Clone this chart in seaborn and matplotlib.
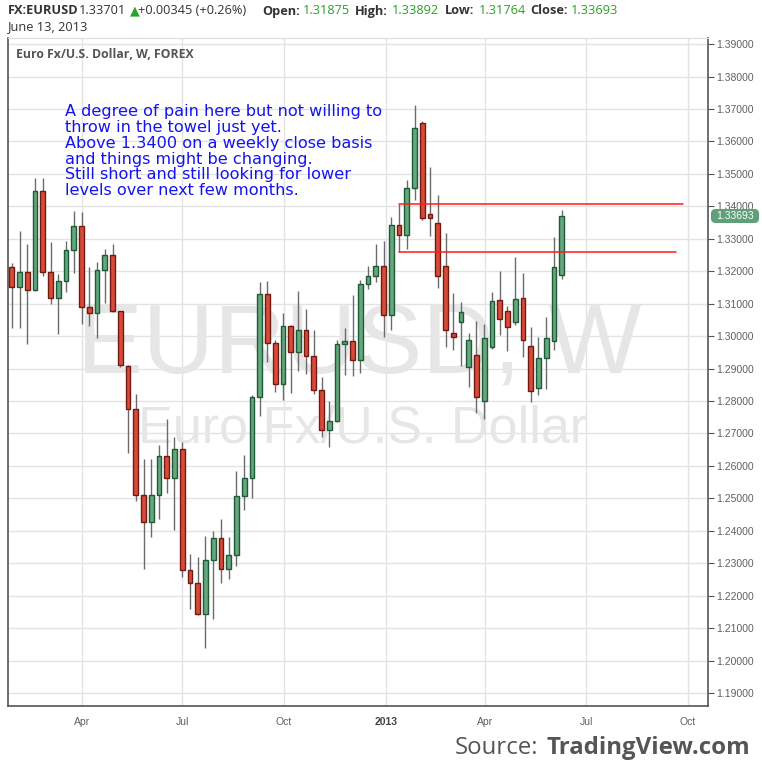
import numpy as np
import pandas as pd
import matplotlib
matplotlib.use("Agg")
import matplotlib.pyplot as plt
import matplotlib.dates as mdates
from matplotlib.patches import FancyBboxPatch
import seaborn as sns

# ---------------- data (weekly EUR/USD candles) ----------------
week_start = "2012-01-29"
opens = [1.3212, 1.3152, 1.3197, 1.3141, 1.3446, 1.3197, 1.3117, 1.3169, 1.3265, 1.3339,
         1.3089, 1.3070, 1.3203, 1.3249, 1.3077, 1.2907, 1.2775, 1.2510, 1.2426, 1.2510,
         1.2630, 1.2562, 1.2651, 1.2278, 1.2238, 1.2143, 1.2309, 1.2377, 1.2282, 1.2325,
         1.2506, 1.2562, 1.2812, 1.3129, 1.2978, 1.2852, 1.3030, 1.2950, 1.3018, 1.2938,
         1.2833, 1.2710, 1.2738, 1.2975, 1.2984, 1.2926, 1.3160, 1.3184, 1.3215, 1.3064,
         1.3342, 1.3311, 1.3456, 1.3656, 1.3376, 1.3348, 1.3215, 1.3009, 1.3043, 1.2904,
         1.2941, 1.2799, 1.2966, 1.3110, 1.3077, 1.3043, 1.3117, 1.2969, 1.2839, 1.2932,
         1.2984, 1.31875]
highs = [1.3225, 1.3324, 1.3283, 1.3486, 1.3486, 1.3290, 1.3191, 1.3293, 1.3386, 1.3384,
         1.3212, 1.3228, 1.3269, 1.3283, 1.3078, 1.2910, 1.2822, 1.2621, 1.2621, 1.2665,
         1.2744, 1.2688, 1.2673, 1.2329, 1.2319, 1.2383, 1.2399, 1.2436, 1.2380, 1.2584,
         1.2633, 1.2818, 1.3166, 1.3169, 1.2987, 1.3070, 1.3034, 1.3138, 1.3083, 1.3018,
         1.2873, 1.2799, 1.2987, 1.3024, 1.3126, 1.3172, 1.3216, 1.3283, 1.3292, 1.3366,
         1.3406, 1.3480, 1.3711, 1.3662, 1.3520, 1.3434, 1.3317, 1.3132, 1.3104, 1.3009,
         1.3046, 1.3037, 1.3135, 1.3200, 1.3092, 1.3243, 1.3194, 1.3027, 1.2996, 1.3058,
         1.3305, 1.33892]
lows = [1.3026, 1.3026, 1.2975, 1.3138, 1.3186, 1.3098, 1.3006, 1.3135, 1.3194, 1.3037,
        1.3032, 1.2995, 1.3103, 1.3075, 1.2904, 1.2641, 1.2493, 1.2283, 1.2382, 1.2437,
        1.2516, 1.2404, 1.2257, 1.2158, 1.2140, 1.2038, 1.2127, 1.2238, 1.2251, 1.2291,
        1.2463, 1.2500, 1.2753, 1.2919, 1.2827, 1.2802, 1.2824, 1.2892, 1.2882, 1.2821,
        1.2688, 1.2658, 1.2735, 1.2879, 1.2876, 1.2886, 1.3144, 1.3166, 1.2996, 1.3018,
        1.3258, 1.3268, 1.3419, 1.3357, 1.3308, 1.3147, 1.2966, 1.2956, 1.2909, 1.2842,
        1.2762, 1.2745, 1.2960, 1.3003, 1.2953, 1.3033, 1.2935, 1.2796, 1.2818, 1.2836,
        1.2956, 1.31764]
closes = [1.3152, 1.3197, 1.3141, 1.3446, 1.3197, 1.3117, 1.3169, 1.3265, 1.3339, 1.3089,
          1.3070, 1.3203, 1.3249, 1.3077, 1.2910, 1.2775, 1.2510, 1.2426, 1.2510, 1.2630,
          1.2562, 1.2651, 1.2278, 1.2238, 1.2143, 1.2309, 1.2377, 1.2282, 1.2325, 1.2506,
          1.2562, 1.2812, 1.3129, 1.2978, 1.2852, 1.3030, 1.2950, 1.3018, 1.2938, 1.2833,
          1.2710, 1.2738, 1.2975, 1.2984, 1.2926, 1.3160, 1.3184, 1.3215, 1.3064, 1.3342,
          1.3311, 1.3456, 1.3641, 1.3363, 1.3363, 1.3184, 1.3018, 1.2996, 1.3074, 1.2987,
          1.2812, 1.2993, 1.3107, 1.3052, 1.3027, 1.3114, 1.2987, 1.2830, 1.2932, 1.2993,
          1.3212, 1.33693]

resistance_levels = [1.3406, 1.3258]
y_ticks = [1.19, 1.20, 1.21, 1.22, 1.23, 1.24, 1.25, 1.26, 1.27, 1.28, 1.29, 1.30,
           1.31, 1.32, 1.33, 1.34, 1.35, 1.36, 1.37, 1.38, 1.39]
x_tick_dates = ["2012-04-01", "2012-07-01", "2012-10-01", "2013-01-01",
                "2013-04-01", "2013-07-01", "2013-10-01"]
x_tick_labels = ["Apr", "Jul", "Oct", "2013", "Apr", "Jul", "Oct"]
last_price = 1.33693
note_lines = ["A degree of pain here but not willing to",
              "throw in the towel just yet.",
              "Above 1.3400 on a weekly close basis",
              "and things might be changing.",
              "Still short and still looking for lower",
              "levels over next few months."]

# ---------------- style ----------------
sns.set_style("white")
plt.rcParams["font.family"] = ["DejaVu Sans"]

UP_FILL, UP_EDGE = "#65a77f", "#1f5a37"
DN_FILL, DN_EDGE = "#d84b39", "#6f1a12"
WICK = "#6b6b6b"
GRID = "#e3e3e3"
AX_C = "#555555"

fig = plt.figure(figsize=(7.62, 7.76), dpi=100)
ax = fig.add_axes([8 / 762, 1 - 706 / 776, 700 / 762, 668 / 776])

dates = pd.date_range(week_start, periods=len(opens), freq="7D")
df = pd.DataFrame({"date": dates, "open": opens, "high": highs,
                   "low": lows, "close": closes})
df["x"] = mdates.date2num(df["date"])
df["up"] = df["close"] >= df["open"]
df["bottom"] = df[["open", "close"]].min(axis=1)
df["height"] = (df["close"] - df["open"]).abs().clip(lower=0.0004)

# wicks
ax.vlines(df["x"], df["low"], df["high"], color=WICK, lw=1.0, zorder=2)
# bodies
for up, fill, edge in [(True, UP_FILL, UP_EDGE), (False, DN_FILL, DN_EDGE)]:
    sub = df[df["up"] == up]
    ax.bar(sub["x"], sub["height"], bottom=sub["bottom"], width=4.3,
           color=fill, edgecolor=edge, linewidth=1.0, zorder=3)

# resistance lines drawn with seaborn
x0 = df["x"].iloc[50] - 0.3
x_end = [df["x"].iloc[0] + 86.7 * 7, df["x"].iloc[0] + 85.8 * 7]
for lvl, xe in zip(resistance_levels, x_end):
    seg = pd.DataFrame({"x": [x0, xe], "y": [lvl, lvl]})
    sns.lineplot(data=seg, x="x", y="y", ax=ax, color="#ff1a1a", lw=1.1,
                 zorder=4, legend=False)

# axes limits
xmin = df["x"].iloc[0] - 0.5 * 7
xmax = df["x"].iloc[0] + 89.9 * 7
ax.set_xlim(xmin, xmax)
ax.set_ylim(1.18602, 1.39188)

# grid / ticks
tick_x = mdates.date2num(pd.to_datetime(x_tick_dates))
ax.set_xticks(tick_x)
ax.set_xticklabels(x_tick_labels)
ax.set_yticks(y_ticks)
ax.set_yticklabels([f"{v:.5f}" for v in y_ticks])
ax.grid(True, color=GRID, lw=1.0, zorder=0)
ax.set_axisbelow(True)
ax.yaxis.tick_right()
ax.tick_params(axis="y", direction="out", length=4, width=0.8, colors=AX_C,
               labelsize=7.5, pad=2, labelcolor="#606060")
ax.tick_params(axis="x", direction="out", length=4, width=0.8, colors=AX_C,
               labelsize=7.5, pad=4, labelcolor="#606060")
for lab in ax.get_yticklabels() + ax.get_xticklabels():
    lab.set_fontfamily("Liberation Sans")
for lab in ax.get_xticklabels():
    if lab.get_text() == "2013":
        lab.set_fontweight("bold")
        lab.set_color("#444444")
ax.set_xlabel("")
ax.set_ylabel("")
for s in ["left", "bottom", "right"]:
    ax.spines[s].set_color(AX_C)
    ax.spines[s].set_linewidth(1.2)
    ax.spines[s].set_visible(True)
ax.spines["top"].set_color("#dddddd")
ax.spines["top"].set_visible(True)

# watermarks
ax.text(0.501, 0.538, "EURUSD, W", transform=ax.transAxes, ha="center",
        va="center", fontsize=71, color="#e6e6e6", family="Liberation Sans",
        zorder=1)
ax.text(0.506, 0.414, "Euro Fx/U.S. Dollar", transform=ax.transAxes,
        ha="center", va="center", fontsize=37.5, color="#e6e6e6",
        family="Liberation Sans", zorder=1)

# inner chart label
ax.text(8 / 700, 1 - 17 / 668, "Euro Fx/U.S. Dollar, W, FOREX",
        transform=ax.transAxes, ha="left", va="center", fontsize=8.8,
        fontweight="bold", color="#555555", family="Open Sans", zorder=5)

# note
fig.text(65 / 762, 1 - 104 / 776, "\n".join(note_lines), ha="left", va="top",
         fontsize=11.6, color="#1414ee", linespacing=1.07,
         family="DejaVu Sans", zorder=6)

# last price tag
tag_y = 1 - 216 / 776
fig.patches.append(FancyBboxPatch((711 / 762, tag_y - 7 / 776), 48 / 762, 14 / 776,
                                  boxstyle="round,pad=0.0,rounding_size=0.006",
                                  transform=fig.transFigure, facecolor="#5f9f7a",
                                  edgecolor="none", zorder=10))
fig.text(735 / 762, tag_y, f"{last_price:.5f}", ha="center", va="center",
         fontsize=7.5, color="white", family="Liberation Sans", zorder=11)

# header
hy = 1 - 11 / 776
GREEN_T = "#2aa12a"
header = [(8, "FX:EURUSD", "#333333", "bold"),
          (79, "1.33701", "#333333", "normal"),
          (130, "\u25b2", GREEN_T, "normal"),
          (138.5, "+0.00345 (+0.26%)", "#333333", "normal"),
          (262, "Open:", "#333333", "bold"),
          (303, "1.31875", GREEN_T, "normal"),
          (354.5, "High:", "#333333", "bold"),
          (391.5, "1.33892", GREEN_T, "normal"),
          (445, "Low:", "#333333", "bold"),
          (479, "1.31764", GREEN_T, "normal"),
          (530, "Close:", "#333333", "bold"),
          (571, "1.33693", GREEN_T, "normal")]
for xp, txt, col, wt in header:
    fig.text(xp / 762, hy, txt, ha="left", va="center", fontsize=9.2,
             color=col, fontweight=wt, family=["Open Sans", "DejaVu Sans"])
fig.text(8 / 762, 1 - 27 / 776, "June 13, 2013", ha="left", va="center",
         fontsize=9.2, color="#333333", family="Open Sans")

# source
fig.text(750 / 762, 1 - 748 / 776, "TradingView.com", ha="right", va="center",
         fontsize=17.3, fontweight="bold", color="#555555", family="Open Sans")
fig.text(538 / 762, 1 - 748 / 776, "Source:", ha="right", va="center",
         fontsize=17.3, color="#555555", family="Open Sans")

fig.savefig("out.png", dpi=100)
